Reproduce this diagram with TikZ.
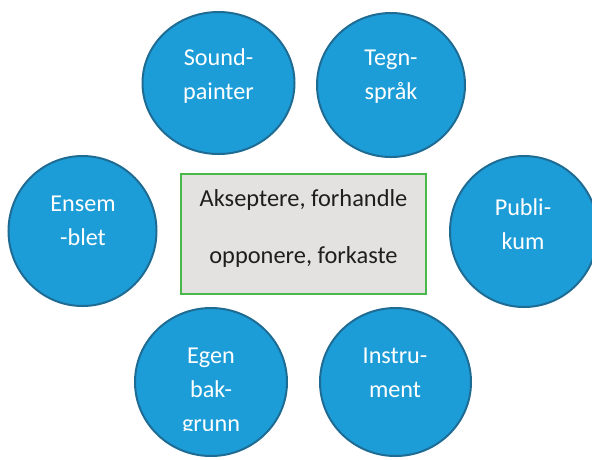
\documentclass[tikz,border=0pt]{standalone}
\usepackage{fontspec}
\setmainfont{Carlito}
\usetikzlibrary{shapes.geometric}
\definecolor{bubblefill}{RGB}{29,157,216}
\definecolor{bubbleedge}{RGB}{30,108,148}
\definecolor{boxfill}{RGB}{227,226,225}
\definecolor{boxedge}{RGB}{72,184,72}
\definecolor{boxtext}{RGB}{30,30,30}
\tikzset{
  bubble/.style={ellipse, fill=bubblefill, draw=bubbleedge, line width=2pt, inner sep=0pt},
  % base anchor of a multi-line node sits on its last line
  bubbletext/.style={text=white, font=\fontsize{24.2}{34}\selectfont, align=center, inner sep=0pt, anchor=base},
  corebox/.style={rectangle, fill=boxfill, draw=boxedge, line width=2.8pt, inner sep=0pt},
  coretext/.style={text=boxtext, font=\fontsize{24.4}{57}\selectfont, align=center, inner sep=0pt, anchor=base}
}
\begin{document}
\begin{tikzpicture}[x=1pt,y=-1pt]
\useasboundingbox (0,0) rectangle (592,459);
\clip (0,0) rectangle (592,459);

% central box
\node[corebox, minimum width=245pt, minimum height=120pt] (core) at (303.5,234) {};
\node[coretext] (coretxt) at (303.5,263) {Akseptere, forhandle\\opponere, forkaste};

% surrounding bubbles
\node[bubble, minimum width=152pt, minimum height=142pt] (sound) at (218.5,83) {};
\node[bubbletext] (soundtxt) at (218.5,99) {Sound-\\painter};

\node[bubble, minimum width=148pt, minimum height=144pt] (tegn) at (391,85) {};
\node[bubbletext] (tegntxt) at (391,99) {Tegn-\\språk};

\node[bubble, minimum width=148pt, minimum height=150pt] (ensem) at (82.5,231) {};
\node[bubbletext] (ensemtxt) at (83,245) {Ensem\\-blet};

\node[bubble, minimum width=148pt, minimum height=151pt] (publi) at (524,231.5) {};
\node[bubbletext] (publitxt) at (523,249) {Publi-\\kum};

\node[bubble, minimum width=152pt, minimum height=148pt] (egen) at (211,382) {};
\begin{scope}
  \clip (100,300) rectangle (320,430);
  \node[bubbletext] (egentxt) at (211,431) {Egen\\bak-\\grunn};
\end{scope}

\node[bubble, minimum width=151pt, minimum height=148pt] (instr) at (395.5,382) {};
\node[bubbletext] (instrtxt) at (395,397) {Instru-\\ment};
\end{tikzpicture}
\end{document}
